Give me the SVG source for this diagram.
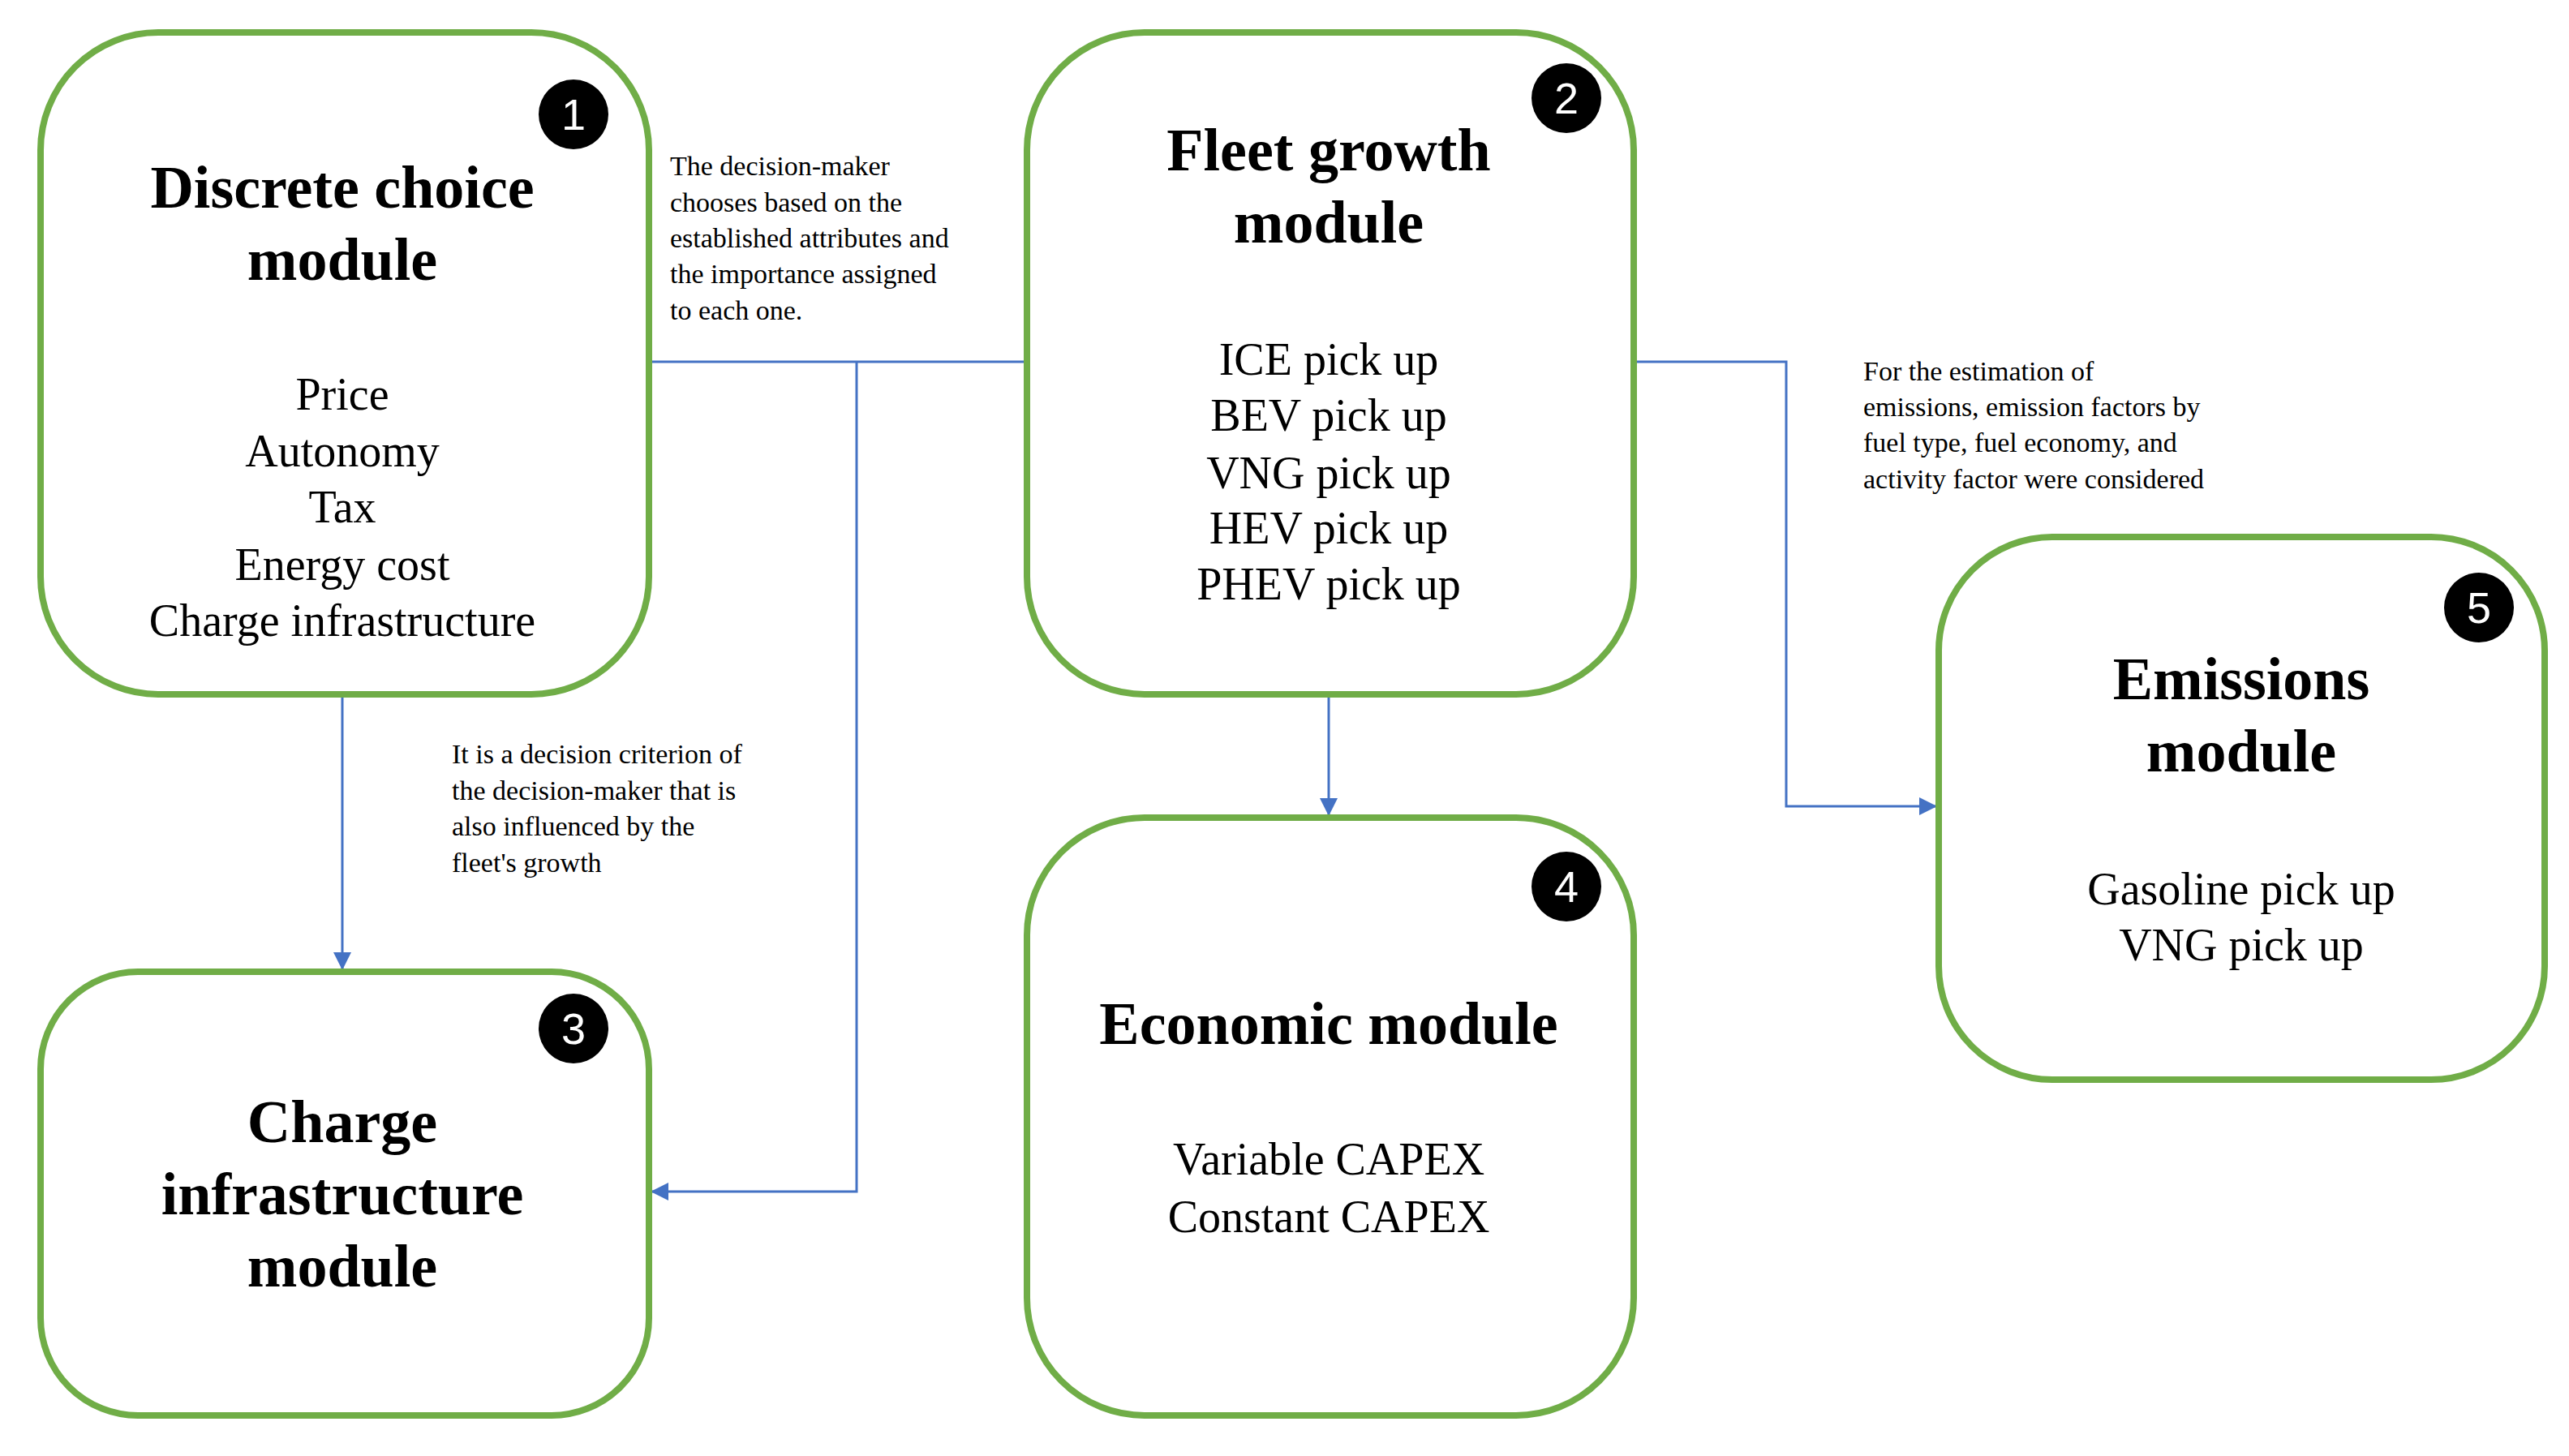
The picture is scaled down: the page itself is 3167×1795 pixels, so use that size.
<svg xmlns="http://www.w3.org/2000/svg" width="3167" height="1795" viewBox="0 0 3167 1795">
<style>
.box{fill:#fff;stroke:#70AD47;stroke-width:8}
.t{font-family:"Liberation Serif",serif;font-weight:bold;font-size:74px;text-anchor:middle;fill:#000}
.b{font-family:"Liberation Serif",serif;font-size:56px;text-anchor:middle;fill:#000}
.a{font-family:"Liberation Serif",serif;font-size:34px;fill:#000}
.n{font-family:"Liberation Sans",sans-serif;font-size:54px;text-anchor:middle;fill:#fff}
.c{fill:none;stroke:#4472C4;stroke-width:3}
</style>
<defs><marker id="ar" viewBox="0 0 10 10" refX="10" refY="5" markerWidth="7" markerHeight="7" orient="auto" markerUnits="userSpaceOnUse" style="overflow:visible"><path d="M0,0 L10,5 L0,10 z" fill="#4472C4" transform="scale(2.2) translate(-5.5,-2.7)"/></marker>
<marker id="arr" viewBox="0 0 10 10" refX="10" refY="5" markerWidth="22" markerHeight="22" orient="auto" markerUnits="userSpaceOnUse"><path d="M0,0 L10,5 L0,10 z" fill="#4472C4"/></marker></defs>
<rect width="3167" height="1795" fill="#fff"/>
<g id="connectors">
<path class="c" d="M800,446 H1266"/>
<path class="c" d="M1056,446 V1469 H802" marker-end="url(#arr)"/>
<path class="c" d="M422,856 V1196" marker-end="url(#arr)"/>
<path class="c" d="M1638,856 V1006" marker-end="url(#arr)"/>
<path class="c" d="M2014,446 H2202 V994 H2388" marker-end="url(#arr)"/>
</g>
<g id="n1"><rect class="box" x="50" y="40" width="750" height="816" rx="145"/>
<circle cx="707" cy="141" r="43"/><text class="n" x="707" y="160">1</text>
<text class="t" x="422" y="256">Discrete choice</text><text class="t" x="422" y="345">module</text>
<text class="b" x="422" y="505">Price</text><text class="b" x="422" y="575">Autonomy</text><text class="b" x="422" y="644">Tax</text><text class="b" x="422" y="715">Energy cost</text><text class="b" x="422" y="784">Charge infrastructure</text></g>
<g id="n2"><rect class="box" x="1266" y="40" width="748" height="816" rx="145"/>
<circle cx="1931" cy="121" r="43"/><text class="n" x="1931" y="140">2</text>
<text class="t" x="1638" y="210">Fleet growth</text><text class="t" x="1638" y="299">module</text>
<text class="b" x="1638" y="462">ICE pick up</text><text class="b" x="1638" y="531">BEV pick up</text><text class="b" x="1638" y="602">VNG pick up</text><text class="b" x="1638" y="670">HEV pick up</text><text class="b" x="1638" y="739">PHEV pick up</text></g>
<g id="n3"><rect class="box" x="50" y="1198" width="750" height="547" rx="120"/>
<circle cx="707" cy="1268" r="43"/><text class="n" x="707" y="1287">3</text>
<text class="t" x="422" y="1408">Charge</text><text class="t" x="422" y="1497">infrastructure</text><text class="t" x="422" y="1586">module</text></g>
<g id="n4"><rect class="box" x="1266" y="1008" width="748" height="737" rx="145"/>
<circle cx="1931" cy="1093" r="43"/><text class="n" x="1931" y="1112">4</text>
<text class="t" x="1638" y="1287">Economic module</text>
<text class="b" x="1638" y="1448">Variable CAPEX</text><text class="b" x="1638" y="1519">Constant CAPEX</text></g>
<g id="n5"><rect class="box" x="2390" y="662" width="747" height="669" rx="140"/>
<circle cx="3056" cy="749" r="43"/><text class="n" x="3056" y="768">5</text>
<text class="t" x="2763" y="862">Emissions</text><text class="t" x="2763" y="951">module</text>
<text class="b" x="2763" y="1115">Gasoline pick up</text><text class="b" x="2763" y="1184">VNG pick up</text></g>
<g id="labels">
<text class="a" x="826" y="216">The decision-maker</text><text class="a" x="826" y="261">chooses based on the</text><text class="a" x="826" y="305">established attributes and</text><text class="a" x="826" y="349">the importance assigned</text><text class="a" x="826" y="394">to each one.</text>
<text class="a" x="557" y="941">It is a decision criterion of</text><text class="a" x="557" y="986">the decision-maker  that is</text><text class="a" x="557" y="1030">also influenced by the</text><text class="a" x="557" y="1075">fleet's growth</text>
<text class="a" x="2297" y="469">For the estimation of</text><text class="a" x="2297" y="513">emissions, emission factors by</text><text class="a" x="2297" y="557">fuel type, fuel economy, and</text><text class="a" x="2297" y="602">activity factor were considered</text>
</g>
</svg>
